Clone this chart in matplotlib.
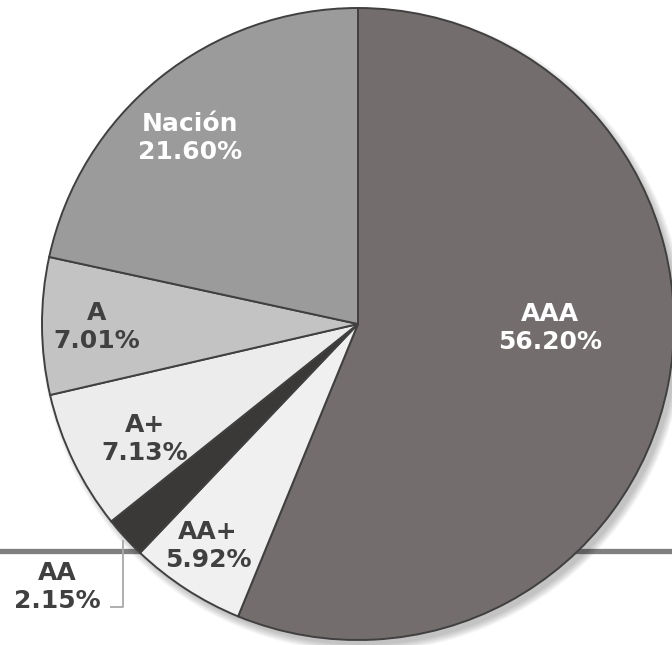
import numpy as np
import matplotlib.pyplot as plt
from matplotlib.patches import Circle

# data, clockwise from 12 o'clock
labels = ["AAA", "AA+", "AA", "A+", "A", "Nación"]
shares = [56.20, 5.92, 2.15, 7.13, 7.01, 21.60]
colors = ["#736e6d", "#f0f0f0", "#3b3938", "#ececec", "#c3c3c3", "#9b9b9b"]
text_colors = ["white", "#404040", "#404040", "#404040", "#404040", "white"]

W, H = 672, 645
cx, cy, R = 358, H - 324, 316

fig = plt.figure(figsize=(6.72, 6.45), dpi=100)
ax = fig.add_axes([0, 0, 1, 1])

# grey rule behind the pie
ax.axhline(H - 551, color="#7f7f7f", lw=3.8, zorder=0)

# soft shadow, mostly lower right
for k in range(8):
    ax.add_patch(Circle((cx + 5, cy - 6), R + 6 - k, color="black",
                        alpha=0.03, lw=0, zorder=1))

wedges, _ = ax.pie(shares, colors=colors, startangle=90, counterclock=False,
                   center=(cx, cy), radius=R, frame=True,
                   wedgeprops=dict(edgecolor="#404040", linewidth=1.4, zorder=2))
ax.set_xlim(0, W)
ax.set_ylim(0, H)
ax.set_aspect("equal")
ax.axis("off")

# label anchor points (pixel offsets from pie centre, y downwards)
label_pos = [(192, 4), (-150, 222), (-301, 263), (-213, 115), (-261, 3), (-168, -186)]
for lab, val, (dx, dy), tc in zip(labels, shares, label_pos, text_colors):
    ax.text(cx + dx, cy - dy, f"{lab}\n{val:.2f}%", ha="center", va="center",
            color=tc, fontsize=18, fontweight="bold", linespacing=1.22,
            family="DejaVu Sans", zorder=5)

# leader line for the thin AA slice
w = wedges[2]
mid = np.deg2rad((w.theta1 + w.theta2) / 2)
x0, y0 = cx + R * np.cos(mid), cy + R * np.sin(mid)
ax.plot([x0 - 2, x0 - 2, x0 - 14], [y0 - 3, H - 607, H - 607],
        color="#a8a8a8", lw=1.3, zorder=4)

fig.savefig("out.png", dpi=100, facecolor="white")
